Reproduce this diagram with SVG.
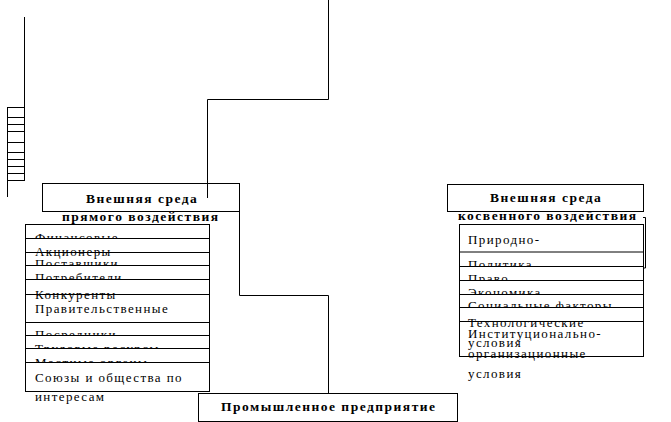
<svg xmlns="http://www.w3.org/2000/svg" width="671" height="422" viewBox="0 0 671 422">
<style>
.box{fill:none;stroke:#000;stroke-width:1}
.ln{fill:none;stroke:#000;stroke-width:1}
.t{font-family:"Liberation Serif","Times New Roman",serif;font-size:13px;letter-spacing:1.4px;fill:#000}
.b{font-family:"Liberation Serif","Times New Roman",serif;font-size:13.5px;font-weight:bold;letter-spacing:1.5px;fill:#000}
</style>
<rect x="0" y="0" width="671" height="422" fill="#fff"/>

<g id="stray-left">
<path class="ln" d="M24.5,17V180.5M7.5,107V197M7,107.5H25M7,117.5H25M7,124.5H25M7,131.5H25M7,142.5H25M7,152.5H25M7,159.5H25M7,166.5H25M7,173.5H25M7,180.5H25"/>
</g>

<g id="direct-title">
<rect class="box" x="42.5" y="183.5" width="197" height="28"/>
<text class="b" x="86" y="203">Внешняя среда</text>
<text class="b" x="62" y="220.5">прямого воздействия</text>
</g>

<g id="direct-list">
<rect class="box" x="25.5" y="224.5" width="184" height="167"/>
<path class="ln" d="M25,238.5H210M25,252.5H210M25,265.5H210M25,279.5H210M25,294.5H210M25,322.5H210M25,335.5H210M25,348.5H210M25,362.5H210"/>
<svg x="25" y="225" width="184" height="13"><text class="t" x="10" y="16.5">Финансовые</text></svg>
<text class="t" x="35" y="256">Акционеры</text>
<svg x="25" y="253" width="184" height="12"><text class="t" x="10" y="14.5">Поставщики</text></svg>
<svg x="25" y="266" width="184" height="13"><text class="t" x="10" y="15.5">Потребители</text></svg>
<text class="t" x="35" y="298.5">Конкуренты</text>
<text class="t" x="35" y="312.5">Правительственные</text>
<svg x="25" y="323" width="184" height="12"><text class="t" x="10" y="15.8">Посредники</text></svg>
<svg x="25" y="336" width="184" height="12"><text class="t" x="10" y="16.8">Трудовые ресурсы</text></svg>
<svg x="25" y="349" width="184" height="13"><text class="t" x="10" y="17.5">Местные органы</text></svg>
<text class="t" x="35" y="381.5">Союзы и общества по</text>
<text class="t" x="35" y="401">интересам</text>
</g>

<g id="indirect-title">
<rect class="box" x="447.5" y="184.5" width="196" height="27"/>
<text class="b" x="490" y="202">Внешняя среда</text>
<text class="b" x="458" y="220">косвенного воздействия</text>
</g>

<g id="indirect-list">
<rect class="box" x="459.5" y="224.5" width="184" height="132"/>
<path class="ln" d="M643,217.5H645.5V268H643"/>
<path class="ln" stroke-width="2" d="M459,252H644"/>
<path class="ln" d="M459,266.5H644M459,280.5H644M459,294.5H644M459,307.5H644M459,321.5H644"/>
<text class="t" x="468" y="244">Природно-</text>
<svg x="459" y="253" width="184" height="13"><text class="t" x="9" y="15.6">Политика</text></svg>
<svg x="459" y="267" width="184" height="13"><text class="t" x="9" y="15.6">Право</text></svg>
<svg x="459" y="281" width="184" height="13"><text class="t" x="9" y="15.6">Экономика</text></svg>
<svg x="459" y="295" width="184" height="12"><text class="t" x="9" y="15.3">Социальные факторы</text></svg>
<text class="t" x="468" y="326.5">Технологические</text>
<text class="t" x="468" y="346.5">условия</text>
<text class="t" x="468" y="337.5">Институционально-</text>
<text class="t" x="468" y="357.5">организационные</text>
<text class="t" x="468" y="377.5">условия</text>
</g>

<g id="enterprise">
<rect class="box" x="198.5" y="393.5" width="259" height="28"/>
<text class="b" x="221" y="411">Промышленное предприятие</text>
</g>

<g id="connectors">
<path class="ln" d="M328.5,0V99.5H207.5V198"/>
<path class="ln" d="M239.5,211V295.5H328.5V393"/>
</g>
</svg>
